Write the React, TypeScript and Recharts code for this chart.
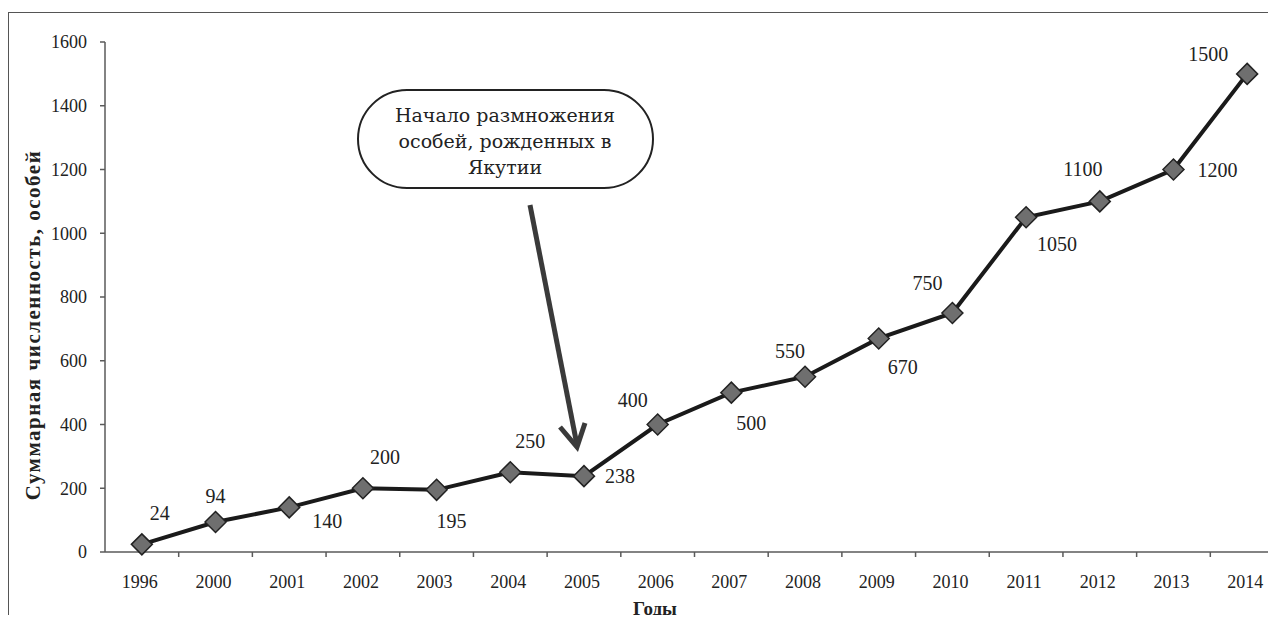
import React from 'react'
import { LineChart, Line, XAxis, YAxis, LabelList } from 'recharts'

const years = ['1996', '2000', '2001', '2002', '2003', '2004', '2005', '2006', '2007', '2008', '2009', '2010', '2011', '2012', '2013', '2014']
const totals = [24, 94, 140, 200, 195, 250, 238, 400, 500, 550, 670, 750, 1050, 1100, 1200, 1500]
const yTicks = [0, 200, 400, 600, 800, 1000, 1200, 1400, 1600]

// where each value label sits relative to its marker (dx, dy)
const labelPlacement: Array<[number, number]> = [
  [18, -31], [0, -26], [38, 14], [22, -31], [15, 31], [20, -31], [36, 0], [-25, -25],
  [20, 30], [-15, -26], [24, 29], [-25, -30], [31, 27], [-17, -32], [44, 0], [-39, -20],
]

const data = years.map((year, i) => ({ year, total: totals[i] }))

const FONT = '"Liberation Serif", "Times New Roman", serif'
const AXIS = '#5a5a5a'
const TEXT = '#222'

const Diamond = (props: any) => {
  const { cx, cy, index } = props
  const r = 10.5
  return (
    <path
      key={`d-${index}`}
      d={`M${cx},${cy - r} L${cx + r},${cy} L${cx},${cy + r} L${cx - r},${cy} Z`}
      fill="#6f6f6f"
      stroke="#222"
      strokeWidth={1.5}
    />
  )
}

const ValueLabel = (props: any) => {
  const { x, y, value, index } = props
  const [dx, dy] = labelPlacement[index] || [0, -25]
  return (
    <text
      x={x + dx}
      y={y + dy}
      textAnchor="middle"
      dominantBaseline="central"
      fontFamily={FONT}
      fontSize={20}
      fill={TEXT}
    >
      {value}
    </text>
  )
}

const YearTick = (props: any) => {
  const { x, y, payload } = props
  const half = payload.offset || 0
  return (
    <g>
      {payload.index > 0 && (
        <line x1={x - half} x2={x - half} y1={y - 19} y2={y - 14} stroke={AXIS} strokeWidth={1.5} />
      )}
      <text x={x - 2} y={y + 17} textAnchor="middle" fontFamily={FONT} fontSize={18} fill={TEXT}>
        {payload.value}
      </text>
    </g>
  )
}

export default function App() {
  return (
    <div style={{ position: 'relative', margin: -8, width: 1276, height: 623, overflow: 'hidden', background: '#fff' }}>
      <div
        style={{
          position: 'absolute',
          left: 8,
          top: 12,
          width: 1400,
          height: 800,
          borderLeft: '1.5px solid #555',
          borderTop: '1.5px solid #555',
        }}
      />
      <div style={{ position: 'absolute', left: 0, top: 0 }}>
        <LineChart width={1300} height={623} data={data} margin={{ top: 42, right: 16, bottom: 21, left: 45 }}>
          <XAxis
            dataKey="year"
            scale="band"
            height={50}
            stroke={AXIS}
            strokeWidth={1.5}
            tickLine={false}
            tickSize={5}
            tickMargin={14}
            interval={0}
            tick={<YearTick />}
          />
          <YAxis
            width={60}
            domain={[0, 1600]}
            ticks={yTicks}
            stroke={AXIS}
            strokeWidth={1.5}
            tickSize={5}
            tickMargin={13}
            tick={{ fontFamily: FONT, fontSize: 18, fill: TEXT }}
          />
          <Line
            type="linear"
            dataKey="total"
            stroke="#1a1a1a"
            strokeWidth={4}
            dot={<Diamond />}
            activeDot={false}
            isAnimationActive={false}
          >
            <LabelList dataKey="total" content={<ValueLabel />} />
          </Line>
        </LineChart>
      </div>
      <svg width={1276} height={623} style={{ position: 'absolute', left: 0, top: 0, pointerEvents: 'none' }}>
        <text
          transform="translate(33,325) rotate(-90)"
          textAnchor="middle"
          dominantBaseline="central"
          fontFamily={FONT}
          fontWeight="bold"
          fontSize={21}
          letterSpacing={1.5}
          fill={TEXT}
        >
          Суммарная численность, особей
        </text>
        <text x={655} y={608} textAnchor="middle" dominantBaseline="central" fontFamily={FONT} fontWeight="bold" fontSize={19} fill={TEXT}>
          Годы
        </text>
        <rect x={358} y={90} width={295} height={98} rx={49} ry={49} fill="#fff" stroke="#222" strokeWidth={2} />
        <g fontFamily='"DejaVu Serif", serif' fontSize={19} fill={TEXT} textAnchor="middle">
          <text x={505} y={122}>Начало размножения</text>
          <text x={505} y={148}>особей, рожденных в</text>
          <text x={505} y={174}>Якутии</text>
        </g>
        <line x1={530} y1={205} x2={577} y2={445} stroke="#3a3a3a" strokeWidth={5} />
        <polyline points="560,427 577,447 585,423" fill="none" stroke="#3a3a3a" strokeWidth={5} strokeLinejoin="miter" />
      </svg>
    </div>
  )
}
